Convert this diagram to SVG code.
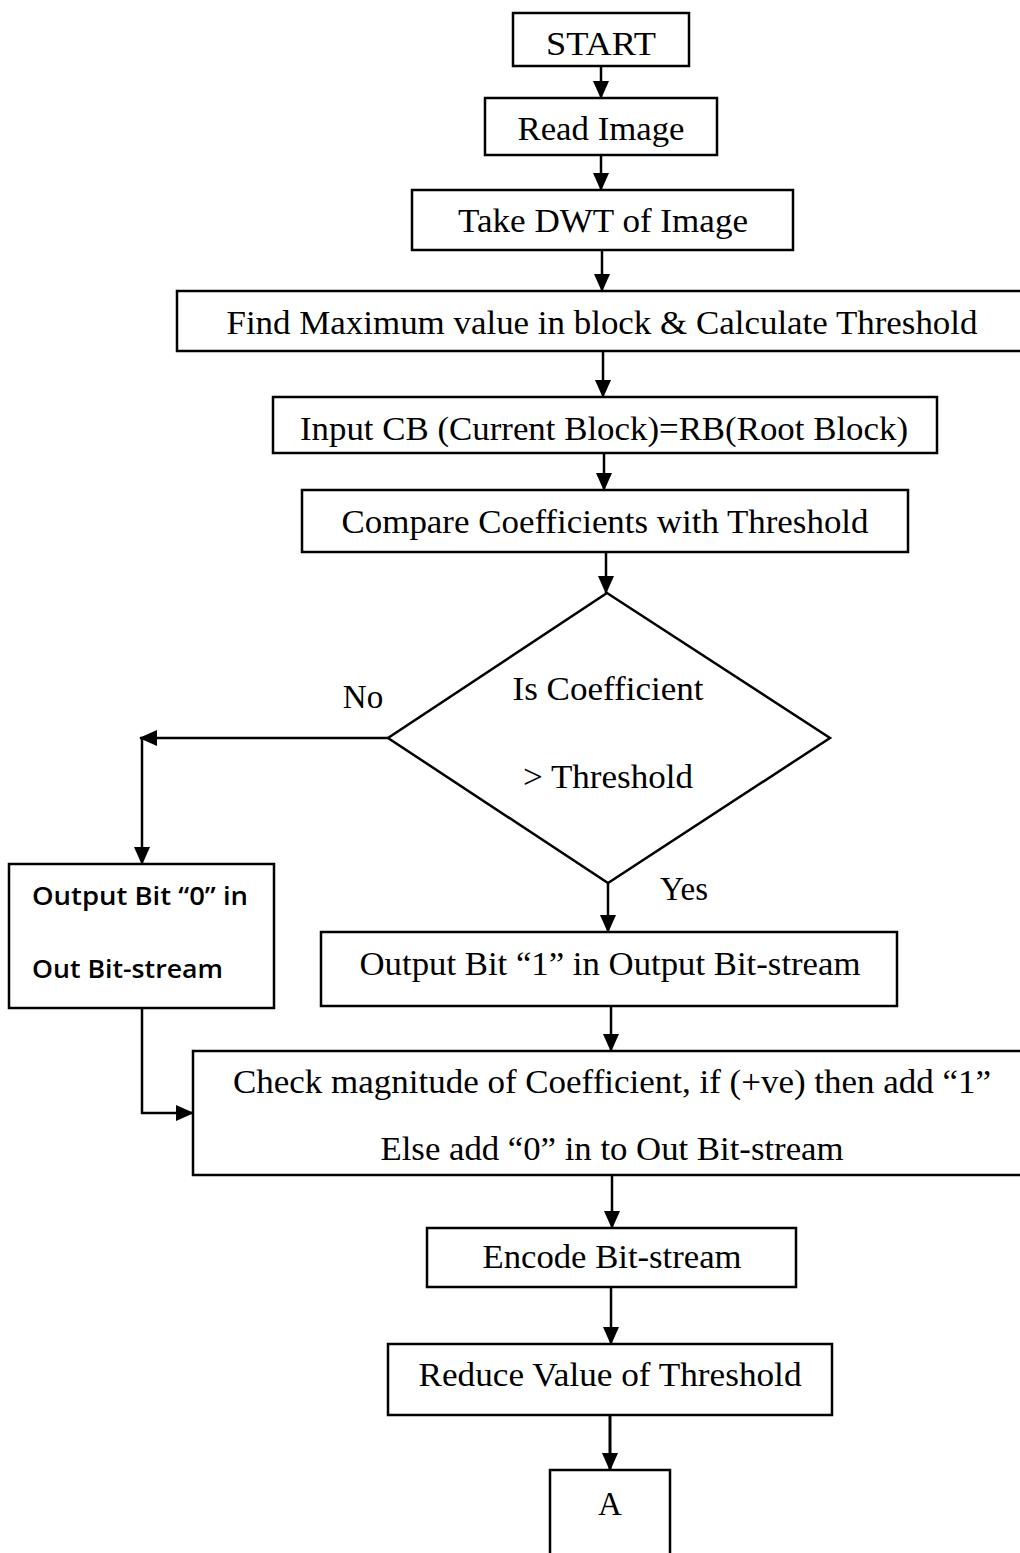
<svg xmlns="http://www.w3.org/2000/svg" width="1020" height="1553" viewBox="0 0 1020 1553">
<defs>
<marker id="ah" markerWidth="18" markerHeight="16" refX="17" refY="8" orient="auto" markerUnits="userSpaceOnUse">
<path d="M0,0 L18,8 L0,16 Z" fill="#000"/>
</marker>
<style>
.b{fill:#fff;stroke:#000;stroke-width:2.5}
.t{font-family:"Liberation Serif","Times New Roman",serif;font-size:33px;fill:#000;text-anchor:middle}
.s{font-family:"Open Sans","Liberation Sans",sans-serif;font-weight:600;font-size:25px;fill:#000}
.c{fill:none;stroke:#000;stroke-width:2.5}
</style>
</defs>
<rect width="1020" height="1553" fill="#fff"/>
<g id="connectors">
<path class="c" d="M601,66 V98" marker-end="url(#ah)"/>
<path class="c" d="M601,155 V190" marker-end="url(#ah)"/>
<path class="c" d="M602,250 V291" marker-end="url(#ah)"/>
<path class="c" d="M603,351 V397" marker-end="url(#ah)"/>
<path class="c" d="M604,453 V490" marker-end="url(#ah)"/>
<path class="c" d="M606,552 V593" marker-end="url(#ah)"/>
<path class="c" d="M388,738 H140" marker-end="url(#ah)"/>
<path class="c" d="M142,738 V864" marker-end="url(#ah)"/>
<path class="c" d="M608,883 V932" marker-end="url(#ah)"/>
<path class="c" d="M611,1006 V1051" marker-end="url(#ah)"/>
<path class="c" d="M142,1008 V1113 H193" marker-end="url(#ah)"/>
<path class="c" d="M612,1175 V1228" marker-end="url(#ah)"/>
<path class="c" d="M611,1287 V1344" marker-end="url(#ah)"/>
<path class="c" d="M610,1415 V1470" marker-end="url(#ah)" style="stroke-width:3"/>
</g>
<g id="start"><rect class="b" x="513" y="13" width="176" height="53"/><text class="t" x="601" y="55" textLength="110" lengthAdjust="spacingAndGlyphs">START</text></g>
<g id="read"><rect class="b" x="485" y="98" width="232" height="57"/><text class="t" x="601" y="140" textLength="167" lengthAdjust="spacingAndGlyphs">Read Image</text></g>
<g id="dwt"><rect class="b" x="412" y="190" width="381" height="60"/><text class="t" x="603" y="232" textLength="290" lengthAdjust="spacingAndGlyphs">Take DWT of Image</text></g>
<g id="findmax"><rect class="b" x="177" y="291" width="850" height="60"/><text class="t" x="602" y="334" textLength="751" lengthAdjust="spacingAndGlyphs">Find Maximum value in block &amp; Calculate Threshold</text></g>
<g id="input"><rect class="b" x="273" y="397" width="664" height="56"/><text class="t" x="604" y="440" textLength="608" lengthAdjust="spacingAndGlyphs">Input CB (Current Block)=RB(Root Block)</text></g>
<g id="compare"><rect class="b" x="302" y="490" width="606" height="62"/><text class="t" x="605" y="533" textLength="527" lengthAdjust="spacingAndGlyphs">Compare Coefficients with Threshold</text></g>
<g id="decision"><polygon class="b" points="607,593 830,738 608,883 388,738"/><text class="t" x="608" y="700" textLength="191" lengthAdjust="spacingAndGlyphs">Is Coefficient</text><text class="t" x="608" y="788" textLength="170" lengthAdjust="spacingAndGlyphs">&gt; Threshold</text></g>
<g id="label-no"><text class="t" x="363" y="708">No</text></g>
<g id="label-yes"><text class="t" x="684" y="900">Yes</text></g>
<g id="out0"><rect class="b" x="9" y="864" width="265" height="144"/><text class="s" x="32" y="905" textLength="216" lengthAdjust="spacingAndGlyphs">Output Bit “0” in</text><text class="s" x="32" y="978" textLength="191" lengthAdjust="spacingAndGlyphs">Out Bit-stream</text></g>
<g id="out1"><rect class="b" x="321" y="932" width="576" height="74"/><text class="t" x="610" y="975" textLength="501" lengthAdjust="spacingAndGlyphs">Output Bit “1” in Output Bit-stream</text></g>
<g id="check"><rect class="b" x="193" y="1051" width="834" height="124"/><text class="t" x="612" y="1093" textLength="758" lengthAdjust="spacingAndGlyphs">Check magnitude of Coefficient, if (+ve) then add “1”</text><text class="t" x="612" y="1160" textLength="463" lengthAdjust="spacingAndGlyphs">Else add “0” in to Out Bit-stream</text></g>
<g id="encode"><rect class="b" x="427" y="1228" width="369" height="59"/><text class="t" x="612" y="1268" textLength="259" lengthAdjust="spacingAndGlyphs">Encode Bit-stream</text></g>
<g id="reduce"><rect class="b" x="388" y="1344" width="444" height="71"/><text class="t" x="610" y="1386" textLength="383" lengthAdjust="spacingAndGlyphs">Reduce Value of Threshold</text></g>
<g id="a"><rect class="b" x="550" y="1470" width="120" height="100"/><text class="t" x="610" y="1515">A</text></g>
</svg>
